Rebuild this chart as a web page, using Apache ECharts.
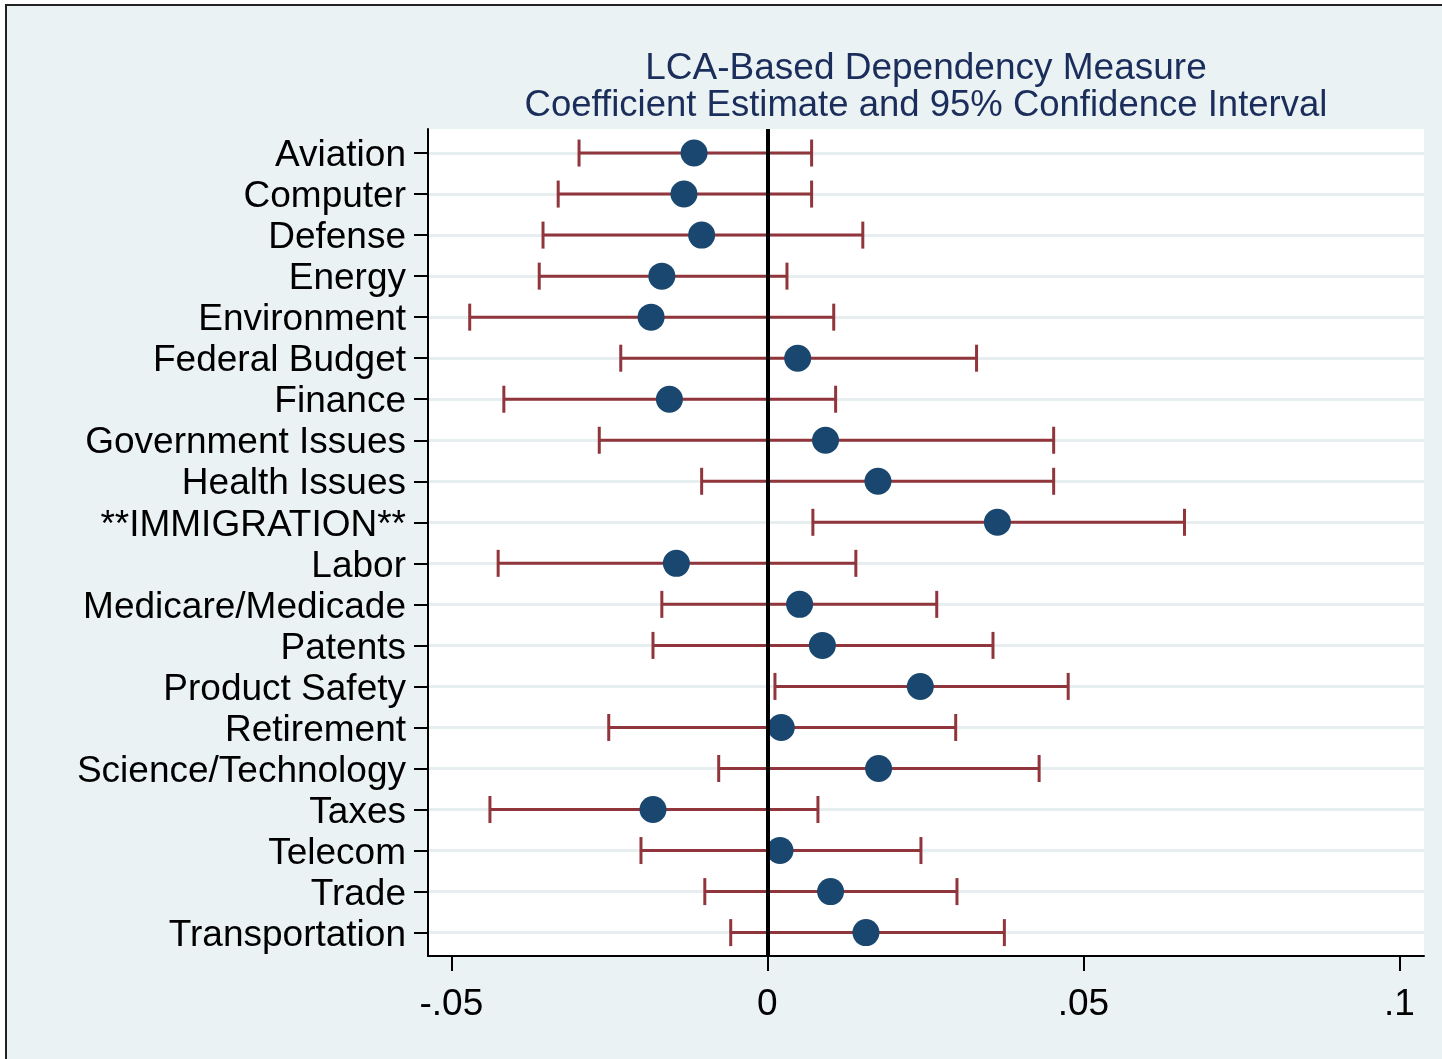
<!DOCTYPE html>
<html>
<head>
<meta charset="utf-8">
<script src="https://cdn.jsdelivr.net/npm/echarts@6/dist/echarts.min.js"></script>
<style>
  html, body { margin: 0; padding: 0; background: #fff; }
  #chart { width: 1442px; height: 1059px; }
</style>
</head>
<body>
<div id="chart"></div>
<script>
// categories, top to bottom
const topics = [
  'Aviation', 'Computer', 'Defense', 'Energy', 'Environment', 'Federal Budget',
  'Finance', 'Government Issues', 'Health Issues', '**IMMIGRATION**', 'Labor',
  'Medicare/Medicade', 'Patents', 'Product Safety', 'Retirement',
  'Science/Technology', 'Taxes', 'Telecom', 'Trade', 'Transportation'
];
// coefficient estimates
const estimate = [
  -0.0116, -0.0132, -0.0104, -0.0167, -0.0184, 0.0048,
  -0.0155, 0.0092, 0.0175, 0.0364, -0.0144,
  0.0051, 0.0087, 0.0242, 0.0022,
  0.0176, -0.0181, 0.0020, 0.0100, 0.0156
];
// 95% CI lower / upper bounds
const lower = [
  -0.0298, -0.0331, -0.0355, -0.0361, -0.0471, -0.0232,
  -0.0417, -0.0266, -0.0104, 0.0072, -0.0426,
  -0.0167, -0.0181, 0.0012, -0.0251,
  -0.0077, -0.0439, -0.0200, -0.0099, -0.0058
];
const upper = [
  0.0070, 0.0070, 0.0151, 0.0031, 0.0105, 0.0331,
  0.0108, 0.0453, 0.0453, 0.0660, 0.0140,
  0.0268, 0.0357, 0.0476, 0.0298,
  0.0430, 0.0080, 0.0243, 0.0300, 0.0375
];
const xTicks = [-0.05, 0, 0.05, 0.1];
const xTickLabels = ['-.05', '0', '.05', '.1'];

const rows = topics.map((_, i) => i);
const font = 'Liberation Sans, Arial, sans-serif';
const barColor = '#90353b';
const dotColor = '#1a476f';

const chart = echarts.init(document.getElementById('chart'));

chart.setOption({
  backgroundColor: '#ffffff',
  animation: false,
  graphic: [
    {
      type: 'rect', z: -10, silent: true,
      shape: { x: 6, y: 5, width: 1500, height: 1100 },
      style: { fill: '#eaf2f3', stroke: '#222', lineWidth: 2 }
    },
    {
      type: 'text', z: 10,
      style: {
        text: 'LCA-Based Dependency Measure', x: 926, y: 69,
        align: 'center', verticalAlign: 'middle',
        font: '37px ' + font, fill: '#1b2d5b'
      }
    },
    {
      type: 'text', z: 10,
      style: {
        text: 'Coefficient Estimate and 95% Confidence Interval', x: 926, y: 106,
        align: 'center', verticalAlign: 'middle',
        font: '36.5px ' + font, fill: '#1b2d5b'
      }
    }
  ],
  grid: {
    left: 428, top: 129, right: 18, bottom: 103,
    show: true, backgroundColor: '#ffffff', borderWidth: 0
  },
  xAxis: {
    type: 'value',
    min: -0.0537, max: 0.1039,
    axisLine: { show: true, onZero: false, lineStyle: { color: '#000', width: 2 } },
    axisTick: { show: true, length: 15, customValues: xTicks, lineStyle: { color: '#000', width: 2 } },
    axisLabel: {
      customValues: xTicks, margin: 30,
      fontSize: 37, fontFamily: font, color: '#000',
      formatter: v => xTickLabels[xTicks.findIndex(t => Math.abs(t - v) < 1e-9)]
    },
    splitLine: { show: false }
  },
  yAxis: {
    type: 'value',
    inverse: true,
    min: -0.586, max: 19.57,
    axisLine: { show: true, onZero: false, lineStyle: { color: '#000', width: 2 } },
    axisTick: { show: true, length: 14, customValues: rows, lineStyle: { color: '#000', width: 2 } },
    axisLabel: {
      customValues: rows, margin: 22,
      fontSize: 37, fontFamily: font, color: '#000',
      formatter: v => '{t|' + topics[Math.round(v)] + '}',
      rich: {
        t: { fontSize: 37, fontFamily: font, color: '#000', padding: [6, 0, 0, 0] }
      }
    },
    splitLine: { show: true, lineStyle: { color: '#e6eef0', width: 3 } }
  },
  series: [
    {
      // zero reference line
      type: 'line', data: [], z: 1,
      markLine: {
        silent: true, symbol: 'none', label: { show: false },
        lineStyle: { color: '#000', width: 4, type: 'solid' },
        data: [{ xAxis: 0 }]
      }
    },
    {
      type: 'custom', z: 2,
      data: rows.map(i => [lower[i], upper[i], i]),
      encode: { x: [0, 1], y: 2 },
      renderItem: (params, api) => {
        const a = api.coord([api.value(0), api.value(2)]);
        const b = api.coord([api.value(1), api.value(2)]);
        const h = 13.5;
        const st = { stroke: barColor, lineWidth: 3 };
        return {
          type: 'group',
          children: [
            { type: 'line', shape: { x1: a[0], y1: a[1], x2: b[0], y2: b[1] }, style: st },
            { type: 'line', shape: { x1: a[0], y1: a[1] - h, x2: a[0], y2: a[1] + h }, style: st },
            { type: 'line', shape: { x1: b[0], y1: b[1] - h, x2: b[0], y2: b[1] + h }, style: st }
          ]
        };
      }
    },
    {
      type: 'scatter', z: 3,
      symbol: 'circle', symbolSize: 27,
      itemStyle: { color: dotColor, opacity: 1 },
      data: rows.map(i => [estimate[i], i])
    }
  ]
});
</script>
</body>
</html>
